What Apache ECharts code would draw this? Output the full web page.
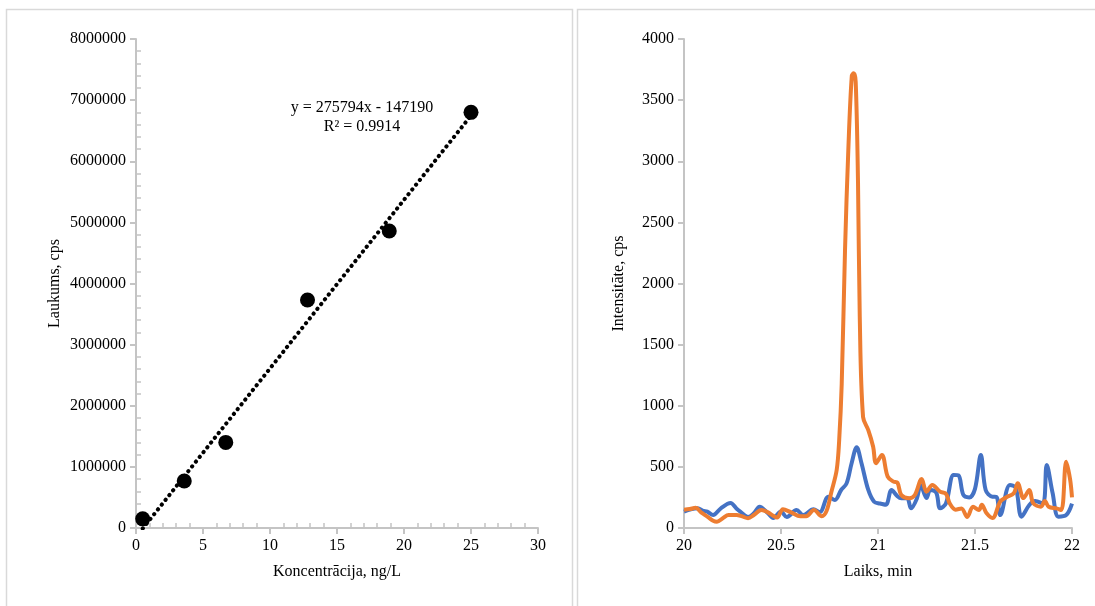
<!DOCTYPE html>
<html>
<head>
<meta charset="utf-8">
<script src="https://cdn.jsdelivr.net/npm/echarts@6/dist/echarts.min.js"></script>
<style>
html,body{margin:0;padding:0;background:#fff;}
#chart{width:1095px;height:606px;}
</style>
</head>
<body>
<div id="chart"></div>
<script>
// ---- Left chart: calibration ----
const concX = [0.5, 3.6, 6.7, 12.8, 18.9, 25];
const areaY = [150000, 770000, 1400000, 3730000, 4860000, 6800000];
const trendSlope = 275794;
const trendIntercept = -147190;
const trendText = ['y = 275794x - 147190', 'R² = 0.9914'];

// ---- Right chart: chromatogram ----
const blueT = [20.00,20.03,20.07,20.10,20.12,20.15,20.19,20.24,20.27,20.29,20.33,20.36,20.39,20.43,20.46,20.50,20.53,20.58,20.615,20.667,20.70,20.744,20.778,20.81,20.838,20.864,20.89,20.915,20.95,20.98,21.01,21.04,21.07,21.10,21.12,21.15,21.17,21.20,21.22,21.25,21.27,21.30,21.32,21.35,21.39,21.415,21.44,21.47,21.50,21.53,21.555,21.59,21.61,21.63,21.68,21.71,21.74,21.78,21.81,21.85,21.87,21.90,21.93,21.97,22.00];
const blueV = [134,150,161,140,134,106,161,204,160,134,90,120,174,125,82,134,90,147,106,153,130,256,229,311,365,530,660,530,311,215,200,190,311,260,243,245,161,240,352,245,311,290,161,200,434,430,270,250,320,597,311,256,255,106,352,330,93,188,220,200,515,286,93,106,200];
const orangeT = [20.00,20.03,20.06,20.09,20.12,20.15,20.17,20.20,20.23,20.27,20.30,20.33,20.36,20.40,20.43,20.46,20.48,20.51,20.55,20.60,20.63,20.67,20.71,20.735,20.76,20.787,20.80,20.813,20.83,20.847,20.865,20.875,20.885,20.897,20.906,20.923,20.95,20.975,20.99,21.02,21.05,21.08,21.10,21.12,21.16,21.19,21.225,21.25,21.28,21.32,21.35,21.37,21.40,21.43,21.46,21.49,21.52,21.535,21.56,21.59,21.63,21.66,21.70,21.72,21.75,21.78,21.80,21.84,21.86,21.88,21.92,21.945,21.97,21.99,22.00];
const orangeV = [150,155,165,125,93,60,52,80,106,106,95,80,106,147,130,100,85,153,130,96,96,147,96,140,297,474,720,1180,2274,3092,3700,3720,3650,2822,1726,908,800,665,530,597,420,379,371,270,243,270,400,297,352,297,280,200,150,160,90,174,147,190,120,82,215,250,284,367,245,311,204,174,220,174,160,147,542,400,250];

const leftXTicks = {min: 0, max: 30, interval: 5};
const leftYTicks = {min: 0, max: 8000000, interval: 1000000};
const rightXTicks = {min: 20, max: 22, interval: 0.5};
const rightYTicks = {min: 0, max: 4000, interval: 500};

const FONT = 'Liberation Serif';
const axisCol = '#c4c4c4';

const scatterData = concX.map((x, i) => [x, areaY[i]]);
const xFirst = concX[0], xLast = concX[concX.length - 1];
const trendData = [[xFirst, trendSlope * xFirst + trendIntercept], [xLast, trendSlope * xLast + trendIntercept]];
const blueData = blueT.map((t, i) => [t, blueV[i]]);
const orangeData = orangeT.map((t, i) => [t, orangeV[i]]);

function mainAxis(ticks, gridIndex, name, nameGap) {
  return {
    type: 'value', gridIndex: gridIndex,
    min: ticks.min, max: ticks.max, interval: ticks.interval,
    name: name, nameLocation: 'middle', nameGap: nameGap,
    nameTextStyle: {fontFamily: FONT, fontSize: 16, color: '#000'},
    axisLine: {show: true, lineStyle: {color: axisCol, width: 2}},
    axisTick: {show: true, length: 6, lineStyle: {color: axisCol, width: 2}},
    axisLabel: {fontFamily: FONT, fontSize: 16, color: '#000', margin: 10,
      formatter: v => String(v)},
    splitLine: {show: false}
  };
}
function minorAxis(ticks, gridIndex, pos) {
  return {
    type: 'value', gridIndex: gridIndex, position: pos,
    min: ticks.min, max: ticks.max, interval: ticks.interval,
    axisLine: {show: false},
    axisTick: {show: false, inside: true},
    minorTick: {show: true, splitNumber: 5, length: 5, lineStyle: {color: axisCol, width: 1.5}},
    axisLabel: {show: false},
    splitLine: {show: false}
  };
}

const chart = echarts.init(document.getElementById('chart'), null, {renderer: 'canvas'});
chart.setOption({
  animation: false,
  backgroundColor: '#fff',
  graphic: [
    {type: 'rect', shape: {x: 6.5, y: 9.5, width: 566, height: 640}, style: {fill: 'none', stroke: '#d9d9d9', lineWidth: 1.5}, silent: true},
    {type: 'rect', shape: {x: 577.5, y: 9.5, width: 540, height: 640}, style: {fill: 'none', stroke: '#d9d9d9', lineWidth: 1.5}, silent: true},
    {type: 'text', x: 362, y: 108, style: {text: trendText[0], fontFamily: FONT, fontSize: 16, fill: '#000', align: 'center', verticalAlign: 'middle'}},
    {type: 'text', x: 362, y: 127, style: {text: trendText[1], fontFamily: FONT, fontSize: 16, fill: '#000', align: 'center', verticalAlign: 'middle'}}
  ],
  grid: [
    {left: 136, top: 39, width: 402, height: 489},
    {left: 684, top: 39, width: 388, height: 489}
  ],
  xAxis: [
    mainAxis(leftXTicks, 0, 'Koncentrācija, ng/L', 36),
    minorAxis(leftXTicks, 0, 'bottom'),
    mainAxis(rightXTicks, 1, 'Laiks, min', 36)
  ],
  yAxis: [
    mainAxis(leftYTicks, 0, 'Laukums, cps', 73),
    minorAxis(leftYTicks, 0, 'left'),
    mainAxis(rightYTicks, 1, 'Intensitāte, cps', 57)
  ],
  series: [
    {type: 'line', xAxisIndex: 0, yAxisIndex: 0, data: trendData, symbol: 'none',
      lineStyle: {color: '#000', width: 4, type: [0.3, 5.8], cap: 'round'}, z: 2},
    {type: 'scatter', xAxisIndex: 0, yAxisIndex: 0, data: scatterData, symbol: 'circle', symbolSize: 15,
      itemStyle: {color: '#000', opacity: 1}, z: 3},
    {type: 'line', xAxisIndex: 2, yAxisIndex: 2, data: blueData, symbol: 'none', smooth: 0.35,
      lineStyle: {color: '#4472C4', width: 4}, z: 2},
    {type: 'line', xAxisIndex: 2, yAxisIndex: 2, data: orangeData, symbol: 'none', smooth: 0.35,
      lineStyle: {color: '#ED7D31', width: 4}, z: 3}
  ]
});
</script>
</body>
</html>
